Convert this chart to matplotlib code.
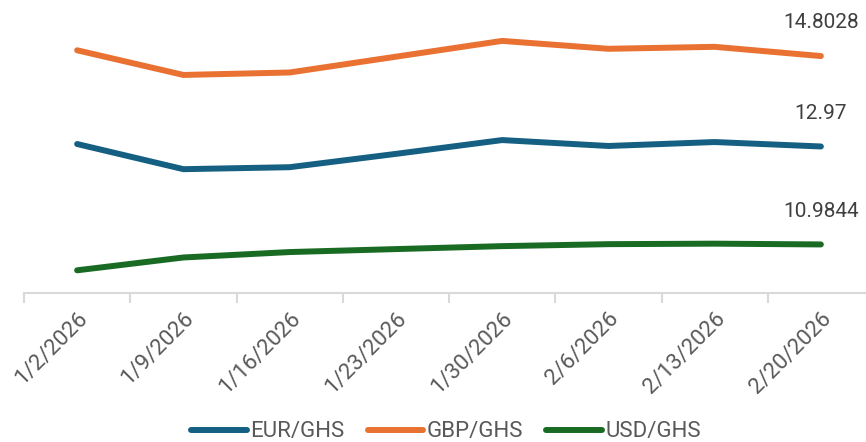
import matplotlib

matplotlib.use("Agg")
import matplotlib.pyplot as plt

dates = ["1/2/2026", "1/9/2026", "1/16/2026", "1/23/2026",
         "1/30/2026", "2/6/2026", "2/13/2026", "2/20/2026"]
eur_ghs = [13.02, 12.51, 12.55, 12.82, 13.10, 12.98, 13.06, 12.97]
gbp_ghs = [14.92, 14.42, 14.47, 14.79, 15.11, 14.95, 14.99, 14.8028]
usd_ghs = [10.46, 10.72, 10.83, 10.89, 10.95, 10.99, 11.00, 10.9844]
last_labels = ["12.97", "14.8028", "10.9844"]

series = [
    ("EUR/GHS", eur_ghs, "#156082"),
    ("GBP/GHS", gbp_ghs, "#E97132"),
    ("USD/GHS", usd_ghs, "#196B24"),
]

plt.rcParams["font.family"] = ["Roboto", "DejaVu Sans"]

fig = plt.figure(figsize=(8.66, 4.42), dpi=100)
ax = fig.add_axes([24 / 866, 149 / 442, 850 / 866, 296 / 442])

x = list(range(len(dates)))
for (name, values, color), label in zip(series, last_labels):
    ax.plot(x, values, color=color, linewidth=4.3, solid_capstyle="round",
            solid_joinstyle="round", label=name)
    ax.annotate(label, (x[-1], values[-1]), xytext=(0, 24),
                textcoords="offset points", ha="center", va="center",
                fontsize=15, color="#404040")

ax.set_xlim(-0.5, len(dates) - 0.5)
ax.set_ylim(10, 16)

for side in ("top", "right", "left"):
    ax.spines[side].set_visible(False)
ax.spines["bottom"].set_color("#D9D9D9")
ax.spines["bottom"].set_linewidth(1.5)
ax.set_yticks([])

ax.set_xticks(x)
ax.set_xticklabels(dates, rotation=45, ha="right", rotation_mode="anchor",
                   fontsize=16, color="#595959")
ax.tick_params(axis="x", which="major", length=0, pad=11)
ax.set_xticks([i - 0.5 for i in range(len(dates) + 1)], minor=True)
ax.tick_params(axis="x", which="minor", length=7, width=1.5, color="#D9D9D9")

fig.legend(loc="center", bbox_to_anchor=(446 / 866, 10 / 442), ncol=3,
           frameon=False, fontsize=16, handlelength=2.5, handletextpad=0.15,
           columnspacing=1.05, labelcolor="#595959", borderpad=0)

fig.savefig("out.png", dpi=100)
